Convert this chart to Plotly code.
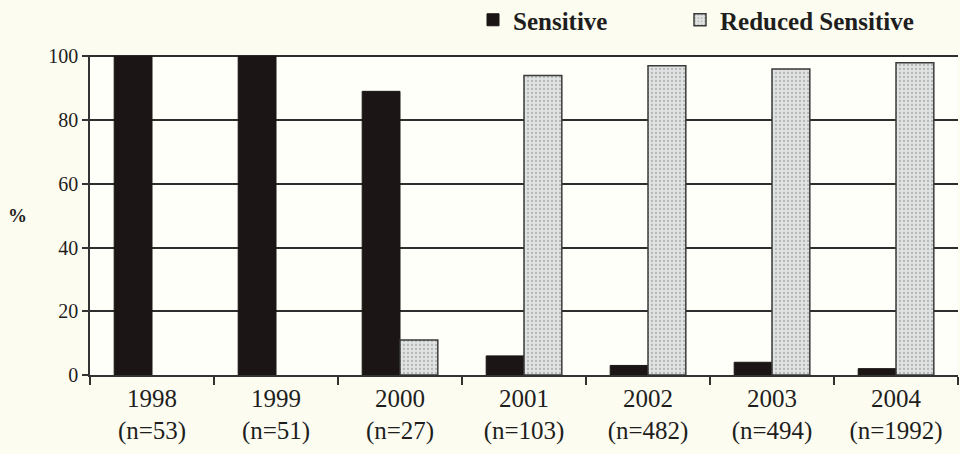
import plotly.graph_objects as go

years = ["1998", "1999", "2000", "2001", "2002", "2003", "2004"]
counts = [53, 51, 27, 103, 482, 494, 1992]
sensitive = [100, 100, 89, 6, 3, 4, 2]
reduced = [0, 0, 11, 94, 97, 96, 98]

categories = [f"{y}<br>(n={n})" for y, n in zip(years, counts)]

serif = "Liberation Serif"
ink = "#1e1e1e"

# plot area in pixels: used to place the legends and the % label
L, R, T, B, W, H = 90, 2, 55, 79, 960, 454
PW, PH = W - L - R, H - T - B

# Reduced-sensitive bars are fed newest-first so the legend swatch (taken
# from the first point) keeps its outline; empty bars get no outline.
rev_cats = categories[::-1]
rev_reduced = reduced[::-1]
rev_outline = [1.5 if v > 0 else 0 for v in rev_reduced]

fig = go.Figure()
fig.add_trace(go.Bar(
    name="Sensitive", x=categories, y=sensitive, legend="legend", showlegend=True,
    marker=dict(color="#1b1615", line=dict(color="#1b1615", width=1)),
))
fig.add_trace(go.Bar(
    name="Reduced Sensitive", x=rev_cats, y=rev_reduced, legend="legend2", showlegend=True,
    marker=dict(
        color="#dcdfde",
        line=dict(color="#3a3a3a", width=rev_outline),
        pattern=dict(shape=".", fgcolor="#b3b7b7", bgcolor="#e0e3e2",
                     size=4, solidity=0.25, fillmode="replace"),
    ),
))

legend_common = dict(
    orientation="h", xanchor="left", yanchor="middle",
    y=1 + (T - 20) / PH,
    font=dict(family=serif, size=25, color=ink, weight="bold"),
    bgcolor="rgba(0,0,0,0)",
)

fig.update_layout(
    width=W, height=H,
    showlegend=True,
    margin=dict(l=L, r=R, t=T, b=B, autoexpand=False),
    paper_bgcolor="#fdfcf0",
    plot_bgcolor="#fffffa",
    barmode="group",
    bargap=0.39,
    bargroupgap=0,
    font=dict(family=serif, color=ink, size=20),
    legend=dict(x=(473 - L) / PW, **legend_common),
    legend2=dict(x=(680 - L) / PW, **legend_common),
    annotations=[dict(
        text="<b>%</b>", x=(17 - L) / PW, y=50, xref="paper", yref="y",
        showarrow=False, font=dict(family=serif, size=19, color=ink),
        xanchor="center", yanchor="middle",
    )],
)

fig.update_xaxes(
    type="category", categoryorder="array", categoryarray=categories,
    showline=True, linecolor="#333333", linewidth=1.5,
    ticks="outside", tickson="boundaries", ticklen=8, tickcolor="#333333", tickwidth=1.5,
    tickfont=dict(family=serif, size=25, color=ink),
    showgrid=False,
)
fig.update_yaxes(
    range=[0, 100.4],
    tickvals=[0, 20, 40, 60, 80, 100],
    showline=True, linecolor="#333333", linewidth=1.5,
    ticks="outside", ticklen=6, tickcolor="#333333", tickwidth=1.5,
    tickfont=dict(family=serif, size=20, color=ink),
    showgrid=True, gridcolor="#2e2e2e", gridwidth=1.5,
    zeroline=False,
)

fig.write_html("out.html")
